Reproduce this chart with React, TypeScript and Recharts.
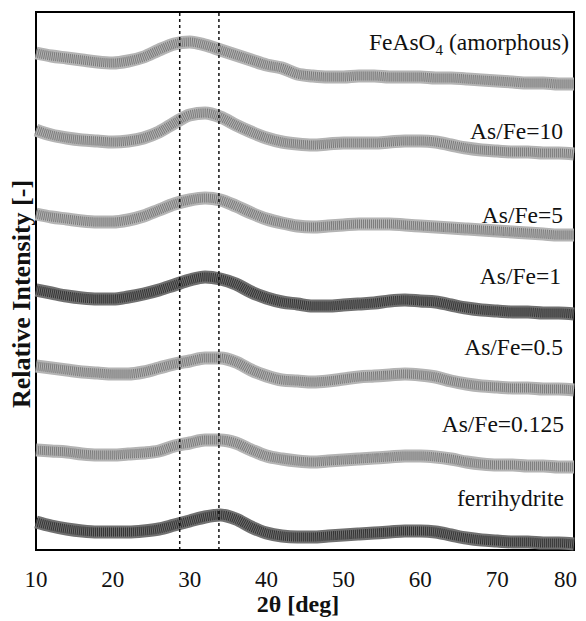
import React from "react";
import { LineChart, Line, XAxis, YAxis, ReferenceLine, ReferenceArea } from "recharts";

// 2θ positions (deg)
const twoTheta = [10,12,14,16,18,20,22,24,26,28,30,32,34,36,38,40,42,44,46,48,50,52,54,56,58,60,62,64,66,68,70,72,74,76,78,80];

// Relative intensity (stacked with offsets)
const feAsO4Amorphous = [497,494,492,490,488,487,489,493,500,506,508,505,500,495,490,485,482,476,474,473,473,474,474,473,473,473,472,472,471,470,469,468,467,467,466,466];
const asFe10 = [420,415,412,410,409,408,409,412,418,427,435,437,433,425,418,412,408,406,405,406,407,407,407,408,409,409,408,405,402,400,399,398,398,397,397,396];
const asFe5 = [336,333,331,329,328,328,330,334,340,346,350,352,350,344,337,331,327,324,323,324,325,326,326,326,325,324,323,322,321,320,319,318,317,316,315,315];
const asFe1 = [260,257,254,252,251,251,253,256,260,265,270,273,271,266,258,252,248,246,244,244,245,246,247,249,250,249,248,245,242,240,239,238,238,237,237,236];
const asFe05 = [184,182,180,178,177,176,176,178,182,186,189,192,192,188,180,174,170,169,168,169,171,173,174,175,176,175,173,169,166,164,163,162,162,161,161,160];
const asFe0125 = [100,99,98,96,95,95,96,97,99,104,107,110,110,107,100,94,91,89,88,89,90,91,92,93,94,94,93,91,88,86,85,85,84,84,83,83];
const ferrihydrite = [28,24,21,19,18,18,18,19,21,25,29,33,35,31,23,17,14,13,13,14,15,16,17,18,19,19,18,15,12,10,9,8,8,7,7,6];

const xTicks = [10,20,30,40,50,60,70,80];
const dashedPositions = [28.7, 33.8];

const seriesKeys = ["feAsO4Amorphous","asFe10","asFe5","asFe1","asFe05","asFe0125","ferrihydrite"];
const seriesValues = [feAsO4Amorphous, asFe10, asFe5, asFe1, asFe05, asFe0125, ferrihydrite];
const darkSeries = ["asFe1", "ferrihydrite"];

const data = twoTheta.map((t, i) => {
  const row: any = { t };
  seriesKeys.forEach((k, j) => { row[k] = seriesValues[j][i]; });
  return row;
});

const FONT = "'Liberation Serif', 'Times New Roman', serif";

const Tick = (props: any) => {
  const { x, y, payload } = props;
  const last = payload.value === xTicks[xTicks.length - 1];
  return (
    <text
      x={last ? x + 3 : x}
      y={y + 37}
      textAnchor={last ? "end" : "middle"}
      fontFamily={FONT}
      fontSize={23}
      fill="#111"
    >
      {payload.value}
    </text>
  );
};

const W = 578;
const H = 613;

export default function App() {
  return (
    <div style={{ position: "relative", width: W, height: H }}>
      <style>{`html,body{overflow:hidden}`}</style>
      <LineChart width={W} height={H} data={data} margin={{ top: 4, right: 12, bottom: 11, left: 0 }} style={{ overflow: "visible" }}>
        <XAxis
          dataKey="t"
          type="number"
          domain={[10, 80]}
          ticks={xTicks}
          tickLine={false}
          axisLine={false}
          tickSize={0}
          tickMargin={0}
          height={60}
          tick={<Tick />}
          interval={0}
        />
        <YAxis type="number" domain={[0, 538]} width={28} tick={false} axisLine={false} tickLine={false} />
        {seriesKeys.map((k) => (
          <Line
            key={k + "-under"}
            dataKey={k}
            type="monotone"
            stroke={darkSeries.includes(k) ? "#707070" : "#b4b4b4"}
            strokeWidth={13}
            dot={false}
            isAnimationActive={false}
          />
        ))}
        {seriesKeys.map((k) => (
          <Line
            key={k}
            dataKey={k}
            type="monotone"
            stroke={darkSeries.includes(k) ? "#333" : "#7a7a7a"}
            strokeWidth={9}
            strokeDasharray="1 1"
            dot={false}
            isAnimationActive={false}
          />
        ))}
        {dashedPositions.map((p) => (
          <ReferenceLine key={p} x={p} stroke="#111" strokeWidth={1.5} strokeDasharray="3 3" />
        ))}
        <ReferenceArea x1={10} x2={80} y1={0} y2={538} fill="none" stroke="#000" strokeWidth={2} />
      </LineChart>
      <svg width={W} height={H} style={{ position: "absolute", left: 0, top: 0, pointerEvents: "none", overflow: "visible" }}>
        <g fontFamily={FONT} fontSize={23.5} fill="#111" textAnchor="end">
          <text x={561} y={42}>FeAsO<tspan fontSize={15} dy={5}>4</tspan><tspan dy={-5}> (amorphous)</tspan></text>
          <text x={555} y={131}>As/Fe=10</text>
          <text x={555} y={215}>As/Fe=5</text>
          <text x={553} y={276}>As/Fe=1</text>
          <text x={555} y={347}>As/Fe=0.5</text>
          <text x={556} y={424}>As/Fe=0.125</text>
          <text x={556} y={498}>ferrihydrite</text>
        </g>
        <text x={290} y={604} textAnchor="middle" fontFamily={FONT} fontSize={24} fontWeight="bold" fill="#111">2θ [deg]</text>
        <text transform="translate(22,286) rotate(-90)" textAnchor="middle" fontFamily={FONT} fontSize={26} fontWeight="bold" fill="#111">Relative Intensity [-]</text>
      </svg>
    </div>
  );
}
